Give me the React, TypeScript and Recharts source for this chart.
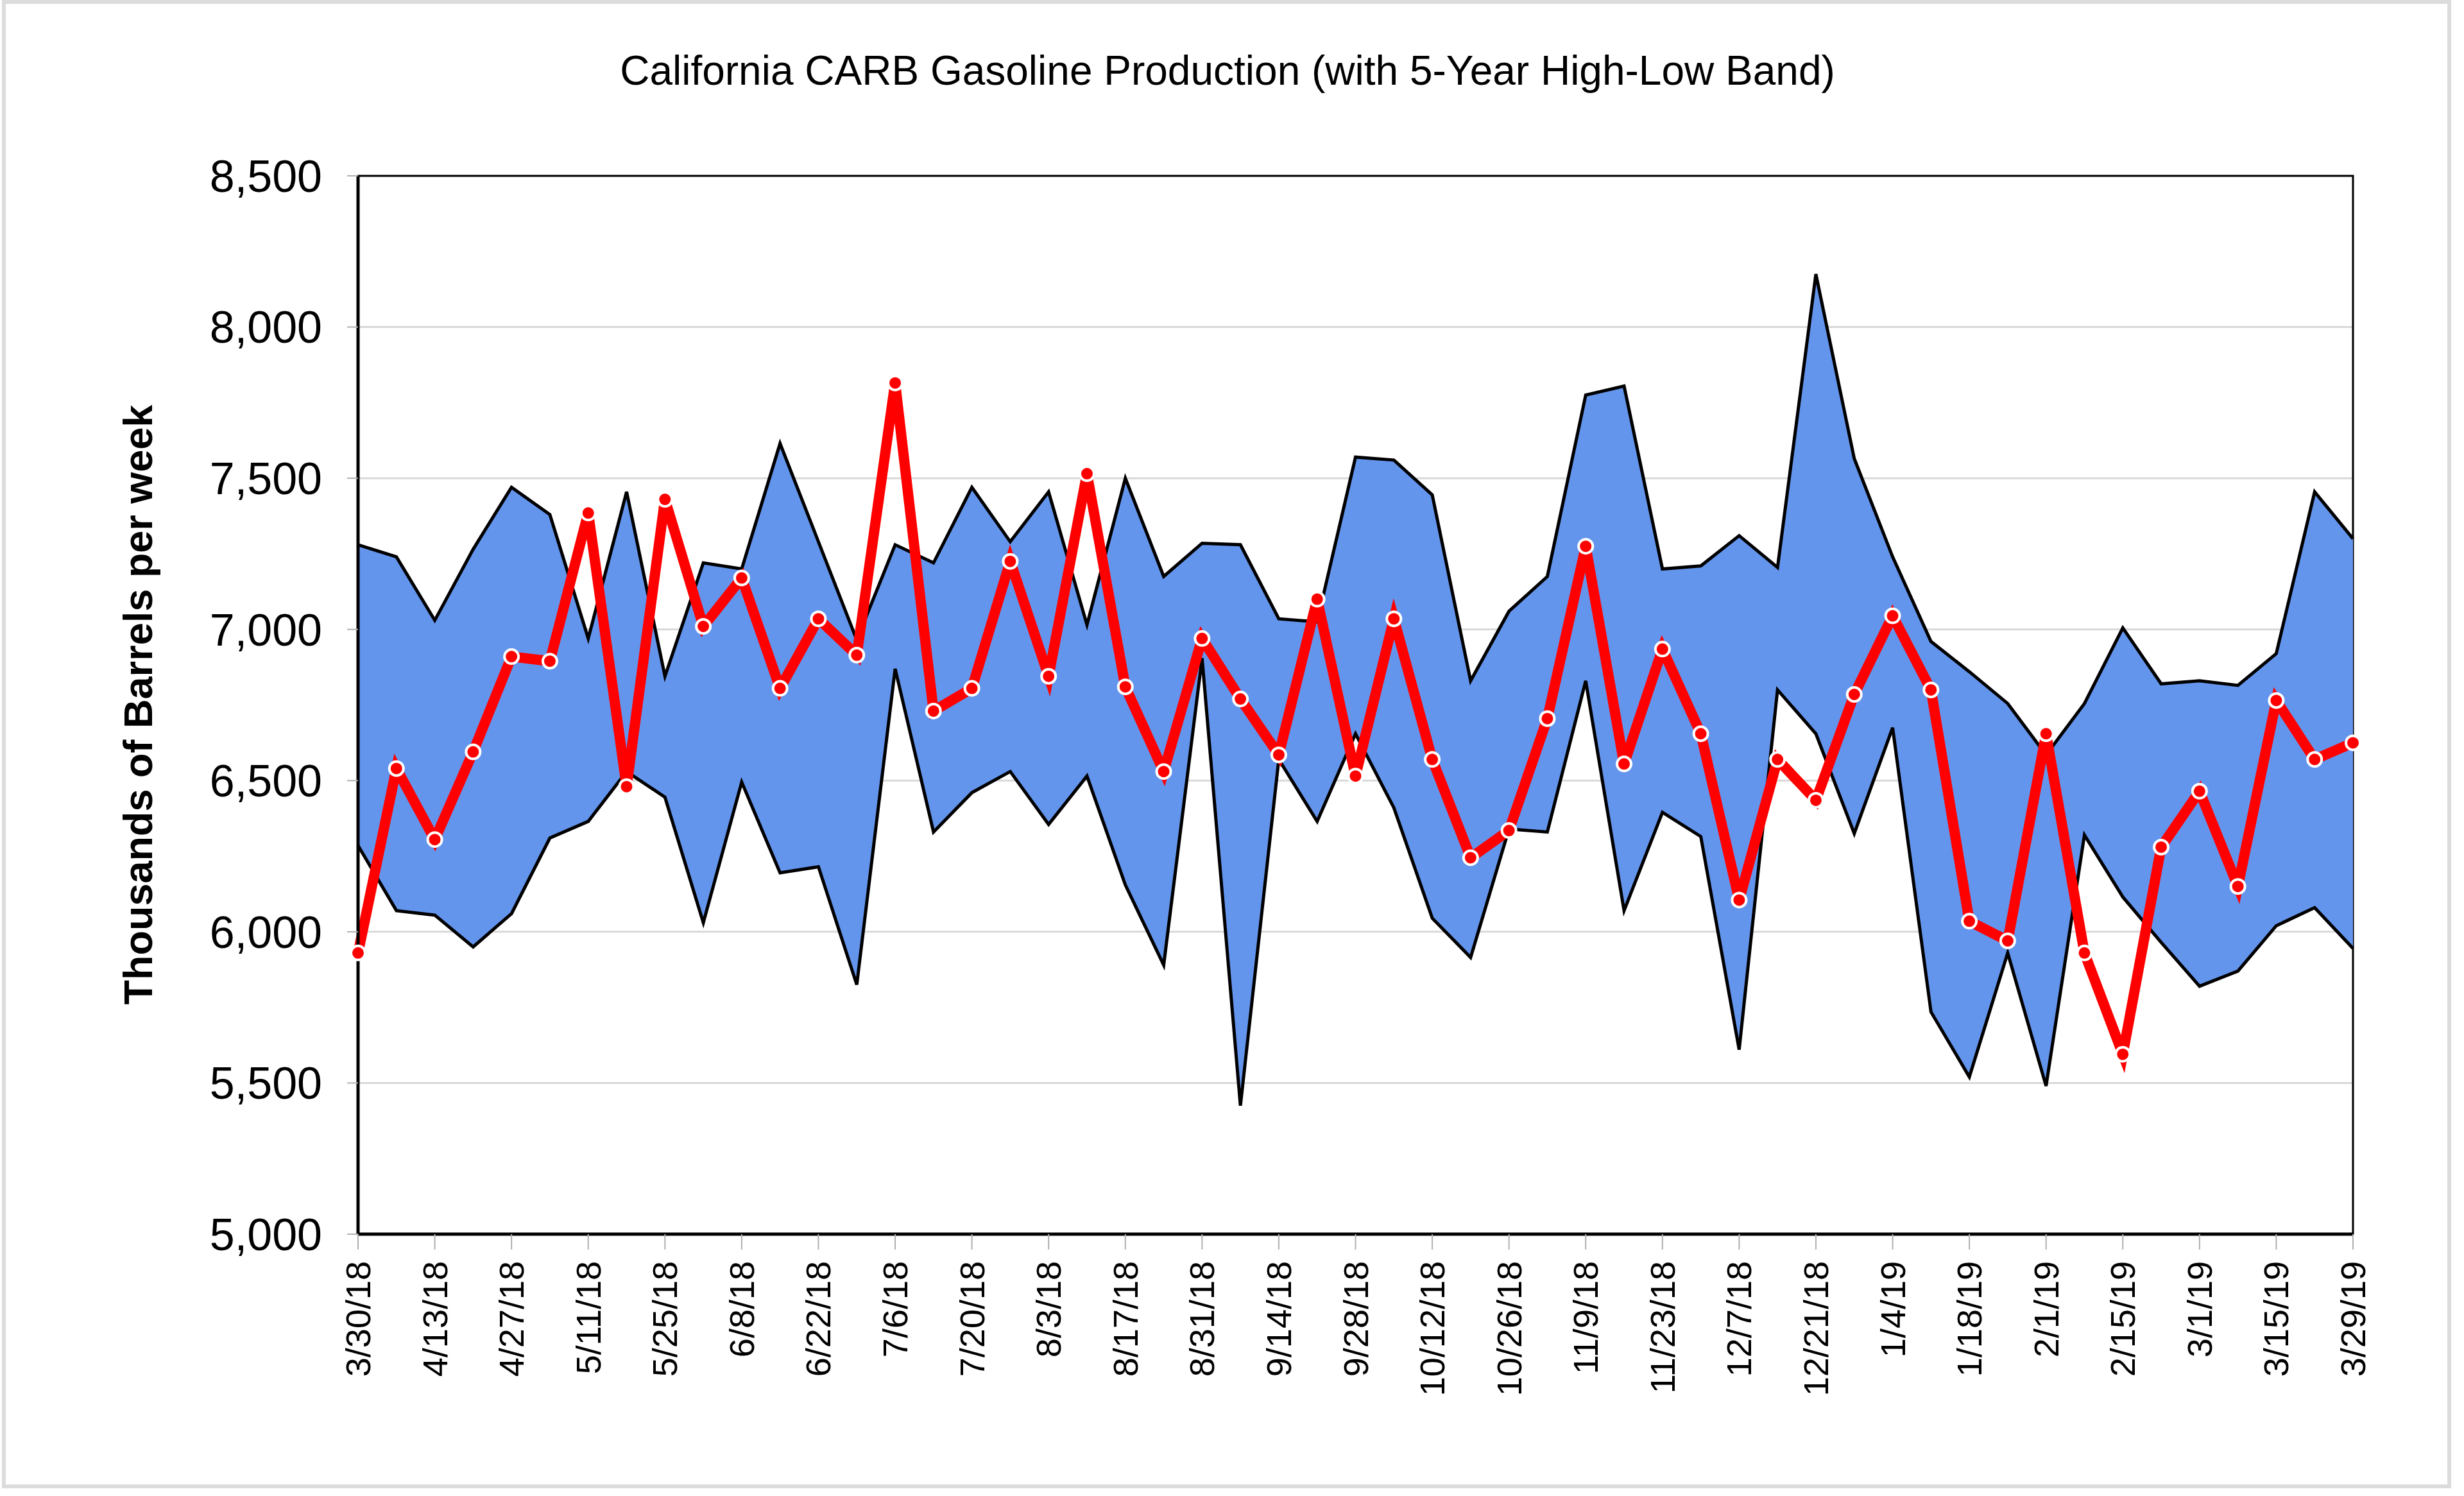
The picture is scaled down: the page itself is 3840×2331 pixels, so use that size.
import {
  ComposedChart,
  Area,
  Line,
  XAxis,
  YAxis,
  CartesianGrid,
  ReferenceArea,
} from "recharts";

const FONT = "'Liberation Sans', Arial, sans-serif";

const weeks = [
  "3/30/18", "4/6/18", "4/13/18", "4/20/18", "4/27/18", "5/4/18", "5/11/18",
  "5/18/18", "5/25/18", "6/1/18", "6/8/18", "6/15/18", "6/22/18", "6/29/18",
  "7/6/18", "7/13/18", "7/20/18", "7/27/18", "8/3/18", "8/10/18", "8/17/18",
  "8/24/18", "8/31/18", "9/7/18", "9/14/18", "9/21/18", "9/28/18", "10/5/18",
  "10/12/18", "10/19/18", "10/26/18", "11/2/18", "11/9/18", "11/16/18",
  "11/23/18", "11/30/18", "12/7/18", "12/14/18", "12/21/18", "12/28/18",
  "1/4/19", "1/11/19", "1/18/19", "1/25/19", "2/1/19", "2/8/19", "2/15/19",
  "2/22/19", "3/1/19", "3/8/19", "3/15/19", "3/22/19", "3/29/19",
];

// 5-year high
const bandHigh = [
  7280, 7240, 7030, 7265, 7470, 7380, 6970, 7455, 6845, 7220, 7200, 7615, 7290,
  6965, 7280, 7220, 7470, 7290, 7455, 7015, 7500, 7175, 7285, 7280, 7035, 7025,
  7570, 7560, 7445, 6830, 7060, 7175, 7775, 7805, 7200, 7210, 7310, 7205, 8175,
  7565, 7240, 6960, 6860, 6755, 6585, 6755, 7005, 6820, 6830, 6815, 6920, 7455,
  7300,
];

// 5-year low
const bandLow = [
  6285, 6070, 6055, 5950, 6060, 6310, 6365, 6530, 6445, 6030, 6495, 6195, 6215,
  5825, 6870, 6330, 6460, 6530, 6355, 6515, 6155, 5890, 6905, 5425, 6570, 6365,
  6655, 6410, 6045, 5915, 6340, 6330, 6830, 6070, 6395, 6315, 5610, 6800, 6655,
  6325, 6675, 5735, 5520, 5930, 5490, 6320, 6115, 5965, 5820, 5870, 6020, 6080,
  5945,
];

// current year production
const production = [
  5930, 6540, 6305, 6595, 6910, 6895, 7385, 6480, 7430, 7010, 7170, 6805, 7035,
  6915, 7815, 6730, 6805, 7225, 6845, 7515, 6810, 6530, 6970, 6770, 6585, 7100,
  6515, 7035, 6570, 6245, 6335, 6705, 7275, 6555, 6935, 6655, 6105, 6570, 6435,
  6785, 7045, 6800, 6035, 5970, 6655, 5930, 5595, 6280, 6465, 6150, 6765, 6570,
  6625,
];

const yTicks = [5000, 5500, 6000, 6500, 7000, 7500, 8000, 8500];

const data = weeks.map((week, i) => ({
  week,
  band: [bandLow[i], bandHigh[i]],
  production: production[i],
}));

function WeekTick(props: any) {
  const { x, y, payload } = props;
  return (
    <text
      x={x}
      y={y}
      transform={`rotate(-90 ${x} ${y})`}
      textAnchor="end"
      dominantBaseline="central"
      fontSize={54}
      fontFamily={FONT}
      fill="#000"
    >
      {payload.value}
    </text>
  );
}

export default function App() {
  return (
    <div
      style={{
        position: "absolute",
        left: 0,
        top: 0,
        width: 3840,
        height: 2331,
        background: "#fff",
        fontFamily: FONT,
      }}
    >
      <div
        style={{
          position: "absolute",
          left: 3,
          top: 0,
          width: 3817,
          height: 2319,
          border: "6px solid #dcdcdc",
          boxSizing: "border-box",
        }}
      />
      <div
        style={{
          position: "absolute",
          left: 0,
          top: 78,
          width: 3826,
          textAlign: "center",
          fontSize: 64,
          lineHeight: "64px",
          color: "#000",
        }}
      >
        California CARB Gasoline Production (with 5-Year High-Low Band)
      </div>
      <div
        style={{
          position: "absolute",
          left: 215,
          top: 1098,
          transform: "translate(-50%, -50%) rotate(-90deg)",
          whiteSpace: "nowrap",
          fontSize: 63,
          fontWeight: "bold",
          color: "#000",
        }}
      >
        Thousands of Barrels per week
      </div>
      <div style={{ position: "absolute", left: 0, top: 0 }}>
        <ComposedChart
          width={3840}
          height={2331}
          data={data}
          margin={{ top: 274, right: 173, bottom: 0, left: 0 }}
        >
          <CartesianGrid vertical={false} stroke="#d9d9d9" strokeWidth={3} />
          <XAxis
            dataKey="week"
            scale="point"
            interval={1}
            height={408}
            padding={{ left: 0, right: 0 }}
            tickSize={24}
            tickMargin={18}
            tickLine={{ stroke: "#b0b0b0", strokeWidth: 2 }}
            axisLine={{ stroke: "#000", strokeWidth: 5 }}
            tick={<WeekTick />}
          />
          <YAxis
            domain={[5000, 8500]}
            ticks={yTicks}
            allowDataOverflow
            width={558}
            tickSize={17}
            tickMargin={39}
            tickLine={{ stroke: "#b0b0b0", strokeWidth: 2 }}
            axisLine={{ stroke: "#000", strokeWidth: 5 }}
            tick={{ fontSize: 70, fill: "#000", fontFamily: FONT }}
            tickFormatter={(v: number) => v.toLocaleString("en-US")}
          />
          <ReferenceArea
            x1={weeks[0]}
            x2={weeks[weeks.length - 1]}
            y1={5000}
            y2={8500}
            fill="none"
            fillOpacity={0}
            stroke="#000"
            strokeWidth={3}
          />
          <Area
            type="linear"
            dataKey="band"
            fill="#6495ED"
            fillOpacity={1}
            stroke="#000"
            strokeWidth={5}
            isAnimationActive={false}
            activeDot={false}
          />
          <Line
            type="linear"
            dataKey="production"
            stroke="#ff0000"
            strokeWidth={16}
            dot={{ r: 11, fill: "#ff0000", stroke: "#ffffff", strokeWidth: 4 }}
            activeDot={false}
            isAnimationActive={false}
          />
        </ComposedChart>
      </div>
    </div>
  );
}
